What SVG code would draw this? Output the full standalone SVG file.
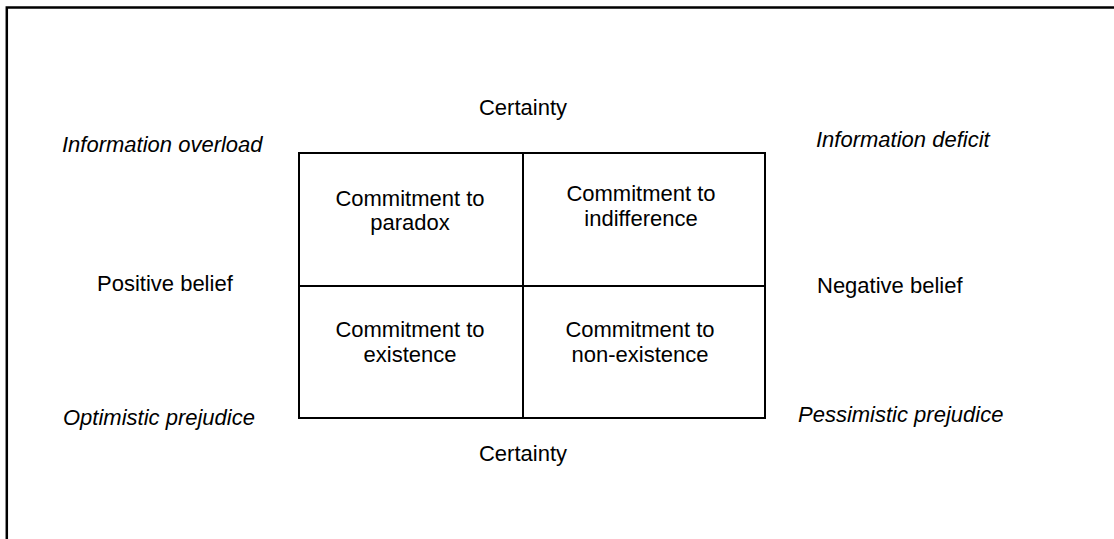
<svg xmlns="http://www.w3.org/2000/svg" width="1114" height="539" viewBox="0 0 1114 539">
<style>
text{font-family:"Liberation Sans",Arial,sans-serif;font-size:22px;fill:#000}
.i{font-style:italic}
.c{text-anchor:middle}
.ln{stroke:#000;stroke-width:2;fill:none}
</style>
<rect width="1114" height="539" fill="#fff"/>
<path d="M6.8 539 V7.5 H1114" stroke="#000" stroke-width="2.5" fill="none"/>
<g id="connectors">
<rect class="ln" x="299" y="153" width="466" height="265"/>
<line class="ln" x1="523" y1="153" x2="523" y2="418"/>
<line class="ln" x1="299" y1="286" x2="765" y2="286"/>
</g>
<g id="cell-paradox"><text class="c" x="410" y="206">Commitment to</text><text class="c" x="410" y="230">paradox</text></g>
<g id="cell-indifference"><text class="c" x="641" y="201">Commitment to</text><text class="c" x="641" y="226">indifference</text></g>
<g id="cell-existence"><text class="c" x="410" y="337">Commitment to</text><text class="c" x="410" y="362">existence</text></g>
<g id="cell-nonexistence"><text class="c" x="640" y="337">Commitment to</text><text class="c" x="640" y="362">non-existence</text></g>
<g id="label-certainty-top"><text class="c" x="523" y="115">Certainty</text></g>
<g id="label-certainty-bottom"><text class="c" x="523" y="461">Certainty</text></g>
<g id="label-positive"><text x="97" y="291">Positive belief</text></g>
<g id="label-negative"><text x="817" y="293">Negative belief</text></g>
<g id="label-overload"><text class="i" x="62" y="152">Information overload</text></g>
<g id="label-deficit"><text class="i" x="816" y="147">Information deficit</text></g>
<g id="label-optimistic"><text class="i" x="63" y="425">Optimistic prejudice</text></g>
<g id="label-pessimistic"><text class="i" x="798" y="422">Pessimistic prejudice</text></g>
</svg>
